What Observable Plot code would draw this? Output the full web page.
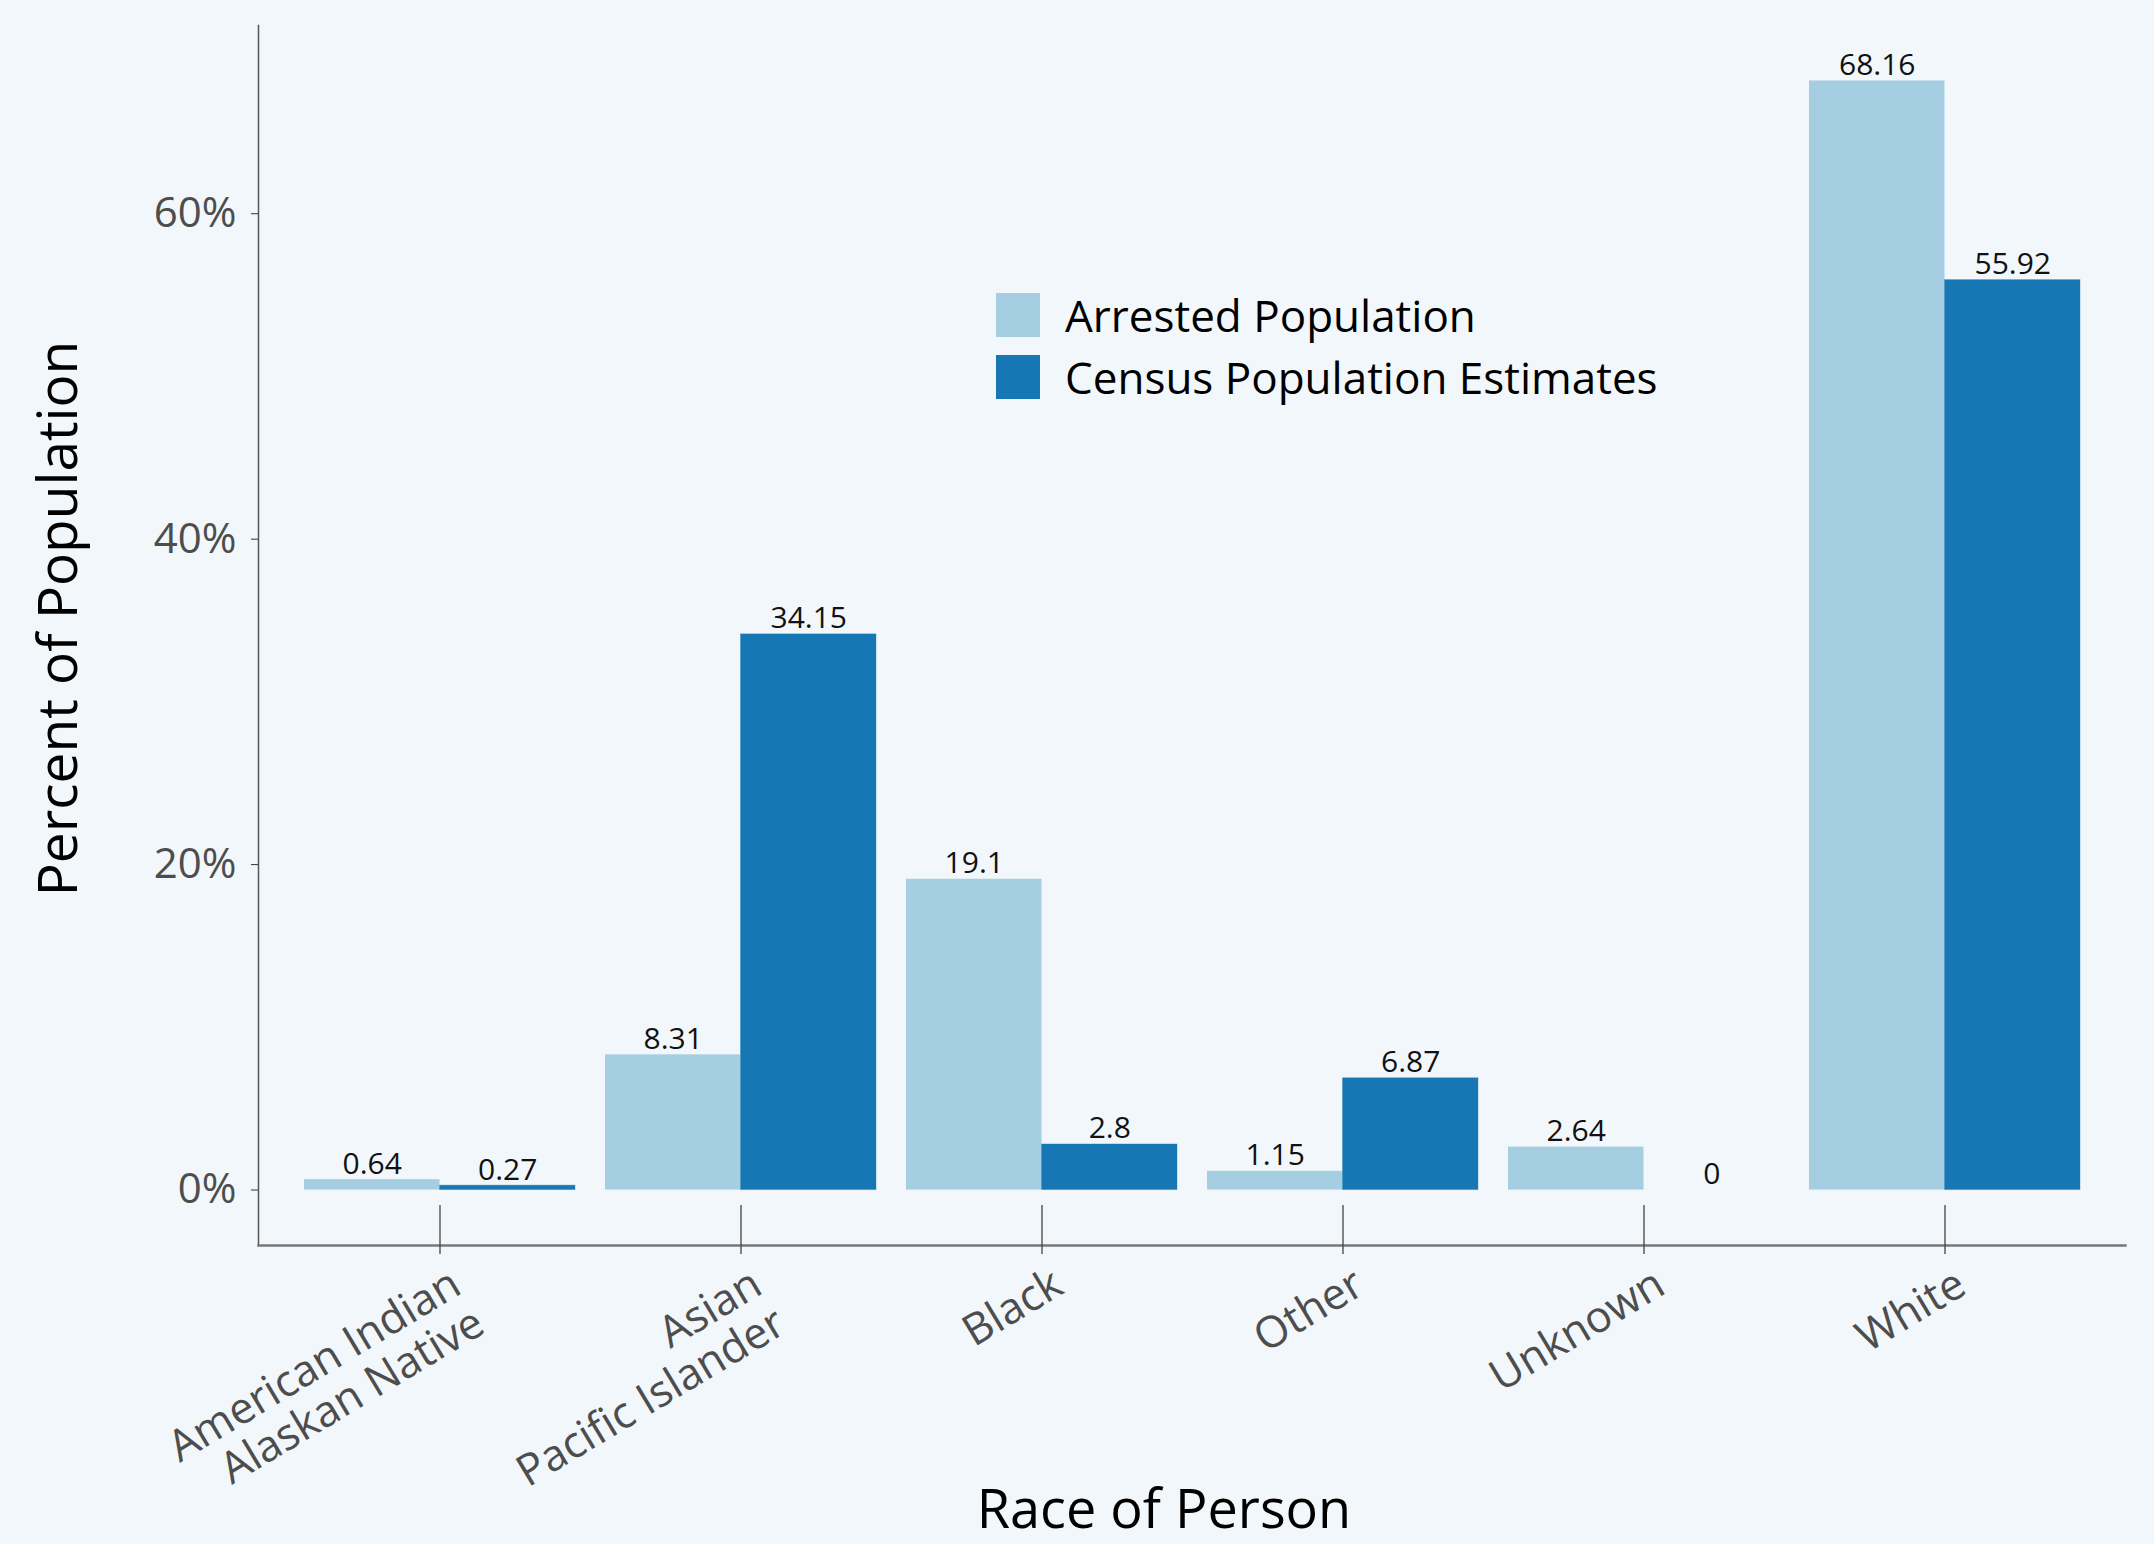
<!DOCTYPE html>
<html>
<head>
<meta charset="utf-8">
<script src="https://cdn.jsdelivr.net/npm/d3@7"></script>
<script src="https://cdn.jsdelivr.net/npm/@observablehq/plot@0.6"></script>
<style>
  html, body { margin: 0; padding: 0; background: #f2f7fb; }
  #wrap { position: relative; width: 2154px; height: 1544px; font-family: "Open Sans", sans-serif; }
  #legend { position: absolute; left: 996px; top: 293px; }
  .item { display: flex; align-items: center; height: 44px; margin-bottom: 18px; }
  .sw { width: 44px; height: 44px; margin-right: 25px; }
  .lab { font-size: 44px; color: #000; white-space: nowrap; line-height: 44px; }
</style>
</head>
<body>
<div id="wrap"><div id="legend"></div></div>
<script>
const races = ["American Indian Alaskan Native", "Asian Pacific Islander", "Black", "Other", "Unknown", "White"];
const tickLabels = ["American Indian\nAlaskan Native", "Asian\nPacific Islander", "Black", "Other", "Unknown", "White"];
const series = ["Arrested Population", "Census Population Estimates"];
const arrested = [0.64, 8.31, 19.1, 1.15, 2.64, 68.16];
const census = [0.27, 34.15, 2.8, 6.87, 0, 55.92];
const colors = ["#a6cee3", "#1777b4"];
const yTicks = [0, 20, 40, 60];

const arrRows = races.map((r, i) => ({race: r, series: series[0], value: arrested[i]}));
const cenRows = races.map((r, i) => ({race: r, series: series[1], value: census[i]}));

const W = 2154, H = 1544;
const mL = 258, mR = 29, mT = 25, mB = 299;
const maxV = d3.max([...arrested, ...census]);
const yDomain = [-maxV * 0.05, maxV * 1.05];
const xOpts = {domain: races, paddingInner: 0.1, paddingOuter: 0.15};
const bw = Plot.scale({x: {type: "band", ...xOpts, range: [mL, W - mR]}}).bandwidth;

const chart = Plot.plot({
  width: W, height: H,
  marginLeft: mL, marginRight: mR, marginTop: mT, marginBottom: mB,
  style: {background: "transparent", fontFamily: "'Open Sans', sans-serif"},
  x: {type: "band", ...xOpts, axis: null},
  y: {domain: yDomain, axis: null},
  color: {domain: series, range: colors},
  marks: [
    Plot.barY(arrRows, {x: "race", y: "value", fill: "series", insetLeft: 0, insetRight: bw / 2}),
    Plot.barY(cenRows, {x: "race", y: "value", fill: "series", stroke: "series", strokeWidth: 1, strokeOpacity: 0.35, insetLeft: bw / 2, insetRight: 0}),
    Plot.text(arrRows, {x: "race", y: "value", text: d => String(d.value), dx: -bw / 4, dy: -6, lineAnchor: "bottom", fontSize: 30, fill: "#111"}),
    Plot.text(cenRows, {x: "race", y: "value", text: d => String(d.value), dx: bw / 4, dy: -6, lineAnchor: "bottom", fontSize: 30, fill: "#111"}),
    Plot.frame({anchor: "left", stroke: "#555", strokeWidth: 1.5}),
    Plot.frame({anchor: "bottom", stroke: "#777", strokeWidth: 2.4}),
    Plot.ruleX(races, {x: d => d, insetTop: 1180, insetBottom: -9, stroke: "#444", strokeWidth: 1.3}),
    Plot.axisY({ticks: yTicks, tickFormat: d => d + "%", tickSize: 7, tickPadding: 15, fontSize: 42, fill: "#4d4d4d", stroke: "#333", label: null}),
    Plot.axisX({tickSize: 0, tickPadding: 19, tickRotate: -31, dx: 7, tickFormat: d => tickLabels[races.indexOf(d)], fontSize: 43.5, fill: "#4d4d4d", textAnchor: "end", lineAnchor: "top", lineHeight: 1.05, label: null}),
    Plot.text(["Percent of Population"], {text: d => d, frameAnchor: "left", dx: -199, dy: -17, rotate: -90, fontSize: 55, fill: "#000", textAnchor: "middle", lineAnchor: "middle"}),
    Plot.text(["Race of Person"], {text: d => d, frameAnchor: "bottom", dx: -28, dy: 265, fontSize: 54, fill: "#000", textAnchor: "middle", lineAnchor: "middle"})
  ]
});
document.getElementById("wrap").prepend(chart);

const legend = document.getElementById("legend");
series.forEach((s, i) => {
  const item = document.createElement("div");
  item.className = "item";
  item.innerHTML = `<div class="sw" style="background:${colors[i]}"></div><div class="lab">${s}</div>`;
  legend.appendChild(item);
});
</script>
</body>
</html>
